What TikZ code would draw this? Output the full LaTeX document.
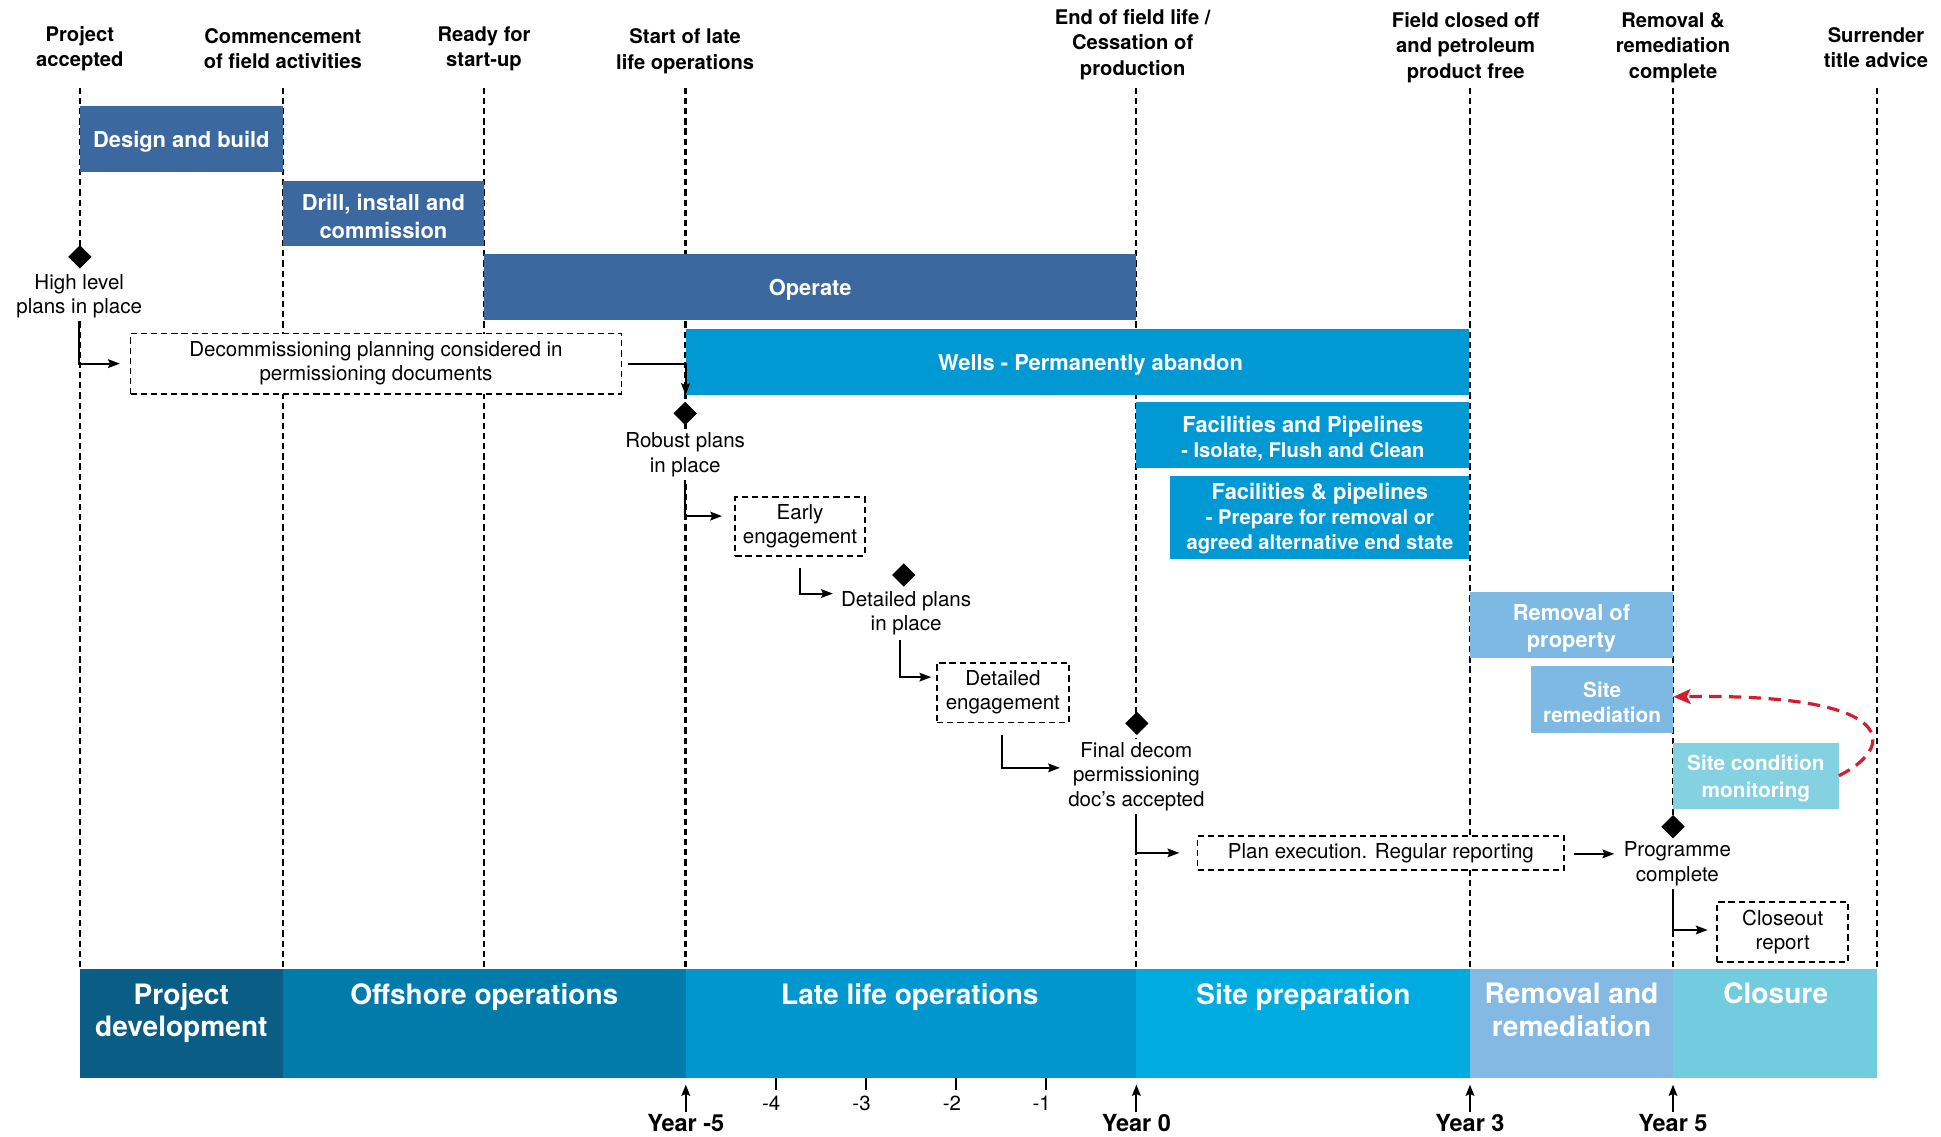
\documentclass[tikz,border=0pt]{standalone}
\usepackage{fontspec}
\setmainfont{TeX Gyre Heros}
\usetikzlibrary{shapes.geometric,arrows.meta,calc}
\definecolor{cDark}{HTML}{3C68A0}
\definecolor{cWell}{HTML}{0099D4}
\definecolor{cLight}{HTML}{7DB9E3}
\definecolor{cTeal}{HTML}{84D1E1}
\definecolor{bPD}{HTML}{0A5E85}
\definecolor{bOff}{HTML}{007BAA}
\definecolor{bLate}{HTML}{0096CE}
\definecolor{bSite}{HTML}{00ACDF}
\definecolor{bRem}{HTML}{84B9E4}
\definecolor{bClo}{HTML}{72CCDF}
\definecolor{cRed}{HTML}{D0202E}
\begin{document}
\begin{tikzpicture}[x=1pt,y=-1pt,
  barbox/.style={inner sep=0pt},
  bartxt/.style={inner sep=0pt, text=white, align=center, yshift=-2.5pt, font=\fontsize{17.7}{22}\selectfont\bfseries},
  factxt/.style={bartxt, font=\fontsize{17.7}{20}\selectfont\bfseries},
  smalltxt/.style={bartxt, font=\fontsize{16.8}{20.5}\selectfont\bfseries},
  milestone/.style={diamond, fill=black, minimum size=19pt, inner sep=0pt},
  mtext/.style={fill=white, inner sep=2.5pt, align=center, font=\fontsize{16.6}{19.7}\selectfont},
  dbox/.style={draw=black, dash pattern=on 5pt off 3.2pt, line width=1.4pt, fill=white, align=center, inner sep=0pt, font=\fontsize{16.6}{19.5}\selectfont},
  toplabel/.style={align=center, inner sep=1pt, font=\fontsize{16.3}{20.5}\selectfont\bfseries},
  vline/.style={dash pattern=on 5pt off 3.2pt, line width=1.5pt},
  conn/.style={line width=1.6pt, -{Stealth[length=9.5pt,width=7pt,inset=1.5pt]}},
  redarrow/.style={cRed, line width=2.6pt, dash pattern=on 10pt off 6pt, -{Stealth[length=14pt,width=12pt,inset=3pt]}},
  band/.style={inner sep=0pt, minimum height=88pt},
  bandtext/.style={text=white, inner sep=0pt, align=center, anchor=north, font=\fontsize{22.7}{26.5}\selectfont\bfseries},
  yeartext/.style={inner sep=2pt, font=\fontsize{19}{22}\selectfont\bfseries},
  ticktext/.style={inner sep=1pt, font=\fontsize{16.5}{19}\selectfont},
  tickline/.style={line width=1.4pt},
  yarrow/.style={line width=1.5pt, -{Stealth[length=9pt,width=7pt,inset=1.5pt]}}
]
\useasboundingbox (0,0) rectangle (1568,918.5);

% ---------- bottom phase band ----------
\node[band, fill=bPD,   minimum width=164pt]   (pd)   at (146.5,827) {};
\node[band, fill=bOff,  minimum width=325.5pt] (off)  at (391.25,827) {};
\node[band, fill=bLate, minimum width=364pt]   (late) at (736,827) {};
\node[band, fill=bSite, minimum width=269.5pt] (site) at (1052.75,827) {};
\node[band, fill=bRem,  minimum width=164pt]   (rem)  at (1269.5,827) {};
\node[band, fill=bClo,  minimum width=165pt]   (clo)  at (1434,827) {};
\node[bandtext] (pdlab)   at (146.5,794) {Project\\development};
\node[bandtext] (offlab)  at (391.25,794) {Offshore operations};
\node[bandtext] (latelab) at (735,794) {Late life operations};
\node[bandtext] (sitelab) at (1053,794) {Site preparation};
\node[bandtext] (remlab)  at (1269.5,794) {Removal and\\remediation};
\node[bandtext] (clolab)  at (1434.5,794) {Closure};

% ---------- top labels ----------
\node[toplabel] (l1) at (64.5,39.5)  {Project\\accepted};
\node[toplabel] (l2) at (228.5,39.5) {Commencement\\of field activities};
\node[toplabel] (l3) at (391,39.5)   {Ready for\\start-up};
\node[toplabel] (l4) at (553.5,41.5) {Start of late\\life operations};
\node[toplabel] (l5) at (915,36)     {End of field life /\\Cessation of\\production};
\node[toplabel] (l6) at (1184,38.5)  {Field closed off\\and petroleum\\product free};
\node[toplabel] (l7) at (1351.5,38.5) {Removal \&\\remediation\\complete};
\node[toplabel] (l8) at (1515.5,38.5) {Surrender\\title advice};

% ---------- vertical dashed guide lines ----------
\foreach \x in {64.5,228.5,391,918,1187.5,1351.5,1516}
  \draw[vline] (\x,71) -- (\x,783);
\draw[vline, line width=2.2pt] (553.8,71) -- (553.8,783);

% ---------- activity bars ----------
\node[barbox, fill=cDark, minimum width=164pt, minimum height=53.5pt,
  label={[bartxt]center:Design and build}] (design) at (146.5,112.25) {};
\node[barbox, fill=cDark, minimum width=162.5pt, minimum height=52.5pt,
  label={[bartxt]center:{Drill, install and\\commission}}] (drill) at (309.75,172.25) {};
\node[barbox, fill=cDark, minimum width=527pt, minimum height=53.5pt,
  label={[bartxt]center:Operate}] (operate) at (654.5,231.75) {};
\node[barbox, fill=cWell, minimum width=633pt, minimum height=53.5pt,
  label={[bartxt,xshift=10.5pt]center:Wells - Permanently abandon}] (wells) at (870.5,292.25) {};
\node[barbox, fill=cWell, minimum width=269pt, minimum height=53pt,
  label={[factxt]center:{Facilities and Pipelines\\\fontsize{16.3}{20}\selectfont - Isolate, Flush and Clean}}] (fac1) at (1052.5,351.5) {};
\node[barbox, fill=cWell, minimum width=241.5pt, minimum height=67pt,
  label={[factxt,yshift=1.5pt]center:{Facilities \& pipelines\\\fontsize{16.3}{20}\selectfont - Prepare for removal or\\\fontsize{16.3}{20}\selectfont agreed alternative end state}}] (fac2) at (1066.25,418) {};
\node[barbox, fill=cLight, minimum width=164pt, minimum height=53.8pt,
  label={[bartxt]center:{Removal of\\property}}] (removal) at (1269.5,504.9) {};
\node[barbox, fill=cLight, minimum width=114.5pt, minimum height=53.8pt,
  label={[smalltxt]center:{Site\\remediation}}] (siterem) at (1294.25,564.9) {};
\node[barbox, fill=cTeal, minimum width=133.8pt, minimum height=53.2pt,
  label={[smalltxt,font=\fontsize{16.8}{21.5}\selectfont\bfseries]center:{Site condition\\monitoring}}] (scm) at (1418.4,626.6) {};

% ---------- dashed activity boxes ----------
\node[dbox, minimum width=396.5pt, minimum height=48.5pt] (decom) at (303.75,293.75) {Decommissioning planning considered in\\permissioning documents};
\node[dbox, minimum width=104.5pt, minimum height=47.4pt] (early) at (646.25,425.4) {Early\\engagement};
\node[dbox, minimum width=106.3pt, minimum height=48.4pt] (deteng) at (810.15,559.5) {Detailed\\engagement};
\node[dbox, minimum width=296.3pt, minimum height=27.5pt] (planex) at (1115.55,689) {Plan execution. Regular reporting};
\node[dbox, minimum width=105.9pt, minimum height=48.3pt] (closeout) at (1440.15,752.75) {Closeout\\report};

% ---------- milestones ----------
\node[mtext] (hltxt) at (64,239.2) {High level\\plans in place};
\node[mtext] (robtxt) at (553.5,367.5) {Robust plans\\in place};
\node[mtext] (dptxt) at (732,495.5) {Detailed plans\\in place};
\node[mtext] (fdtxt) at (918,627.3) {Final decom\\permissioning\\doc's accepted};
\node[mtext] (pctxt) at (1355,697.7) {Programme\\complete};
\node[milestone] (m1) at (64.5,207.5) {};
\node[milestone] (m2) at (553.5,334) {};
\node[milestone] (m3) at (730,464.5) {};
\node[milestone] (m4) at (918.4,584.3) {};
\node[milestone] (m5) at (1351.5,667.8) {};

% ---------- connectors ----------
\draw[conn] (hltxt.south) |- ($(decom.west)+(-8,0)$);
\draw[conn] ($(decom.east)+(5,0)$) -| (wells.south west);
\draw[conn] (robtxt.south) |- ($(early.west)+(-10,-8.5)$);
\draw[conn] ($(early.south)+(0,9)$) |- ($(dptxt.west)+(-4,-16)$);
\draw[conn] ($(dptxt.south)+(-5,1)$) |- ($(deteng.west)+(-4,-12.5)$);
\draw[conn] ($(deteng.south)+(-1,9)$) |- ($(fdtxt.west)+(-4,-7)$);
\draw[conn] (fdtxt.south) |- ($(planex.west)+(-14,0)$);
\draw[conn] ($(planex.east)+(7,0.8)$) -- ($(pctxt.west |- planex.east)+(-5,0.8)$);
\draw[conn] ($(pctxt.south)+(-3.5,0)$) |- ($(closeout.west)+(-7,-1.5)$);
\draw[redarrow] (scm.east) .. controls (1530,605) and (1540,560) .. ($(siterem.east)+(0,-2)$);

% ---------- time axis ----------
\node[yeartext] (ym5) at (554,907.5) {Year -5};
\node[yeartext] (y0)  at (918,907.5) {Year 0};
\node[yeartext] (y3)  at (1187.5,907.5) {Year 3};
\node[yeartext] (y5)  at (1351.5,907.5) {Year 5};
\draw[yarrow, shorten >=5pt] (ym5.north) -- (ym5.north |- late.south);
\draw[yarrow, shorten >=5pt] (y0.north) -- (y0.north |- site.south);
\draw[yarrow, shorten >=5pt] (y3.north) -- (y3.north |- rem.south);
\draw[yarrow, shorten >=5pt] (y5.north) -- (y5.north |- clo.south);
\node[ticktext] (k4) at (623,891.5) {-4};
\node[ticktext] (k3) at (696,891.5) {-3};
\node[ticktext] (k2) at (769,891.5) {-2};
\node[ticktext] (k1) at (841.5,891.5) {-1};
\draw[tickline] (626.7,871) -- (626.7,880.5);
\draw[tickline] (699.4,871) -- (699.4,880.5);
\draw[tickline] (772,871) -- (772,880.5);
\draw[tickline] (844.8,871) -- (844.8,880.5);
\end{tikzpicture}
\end{document}
